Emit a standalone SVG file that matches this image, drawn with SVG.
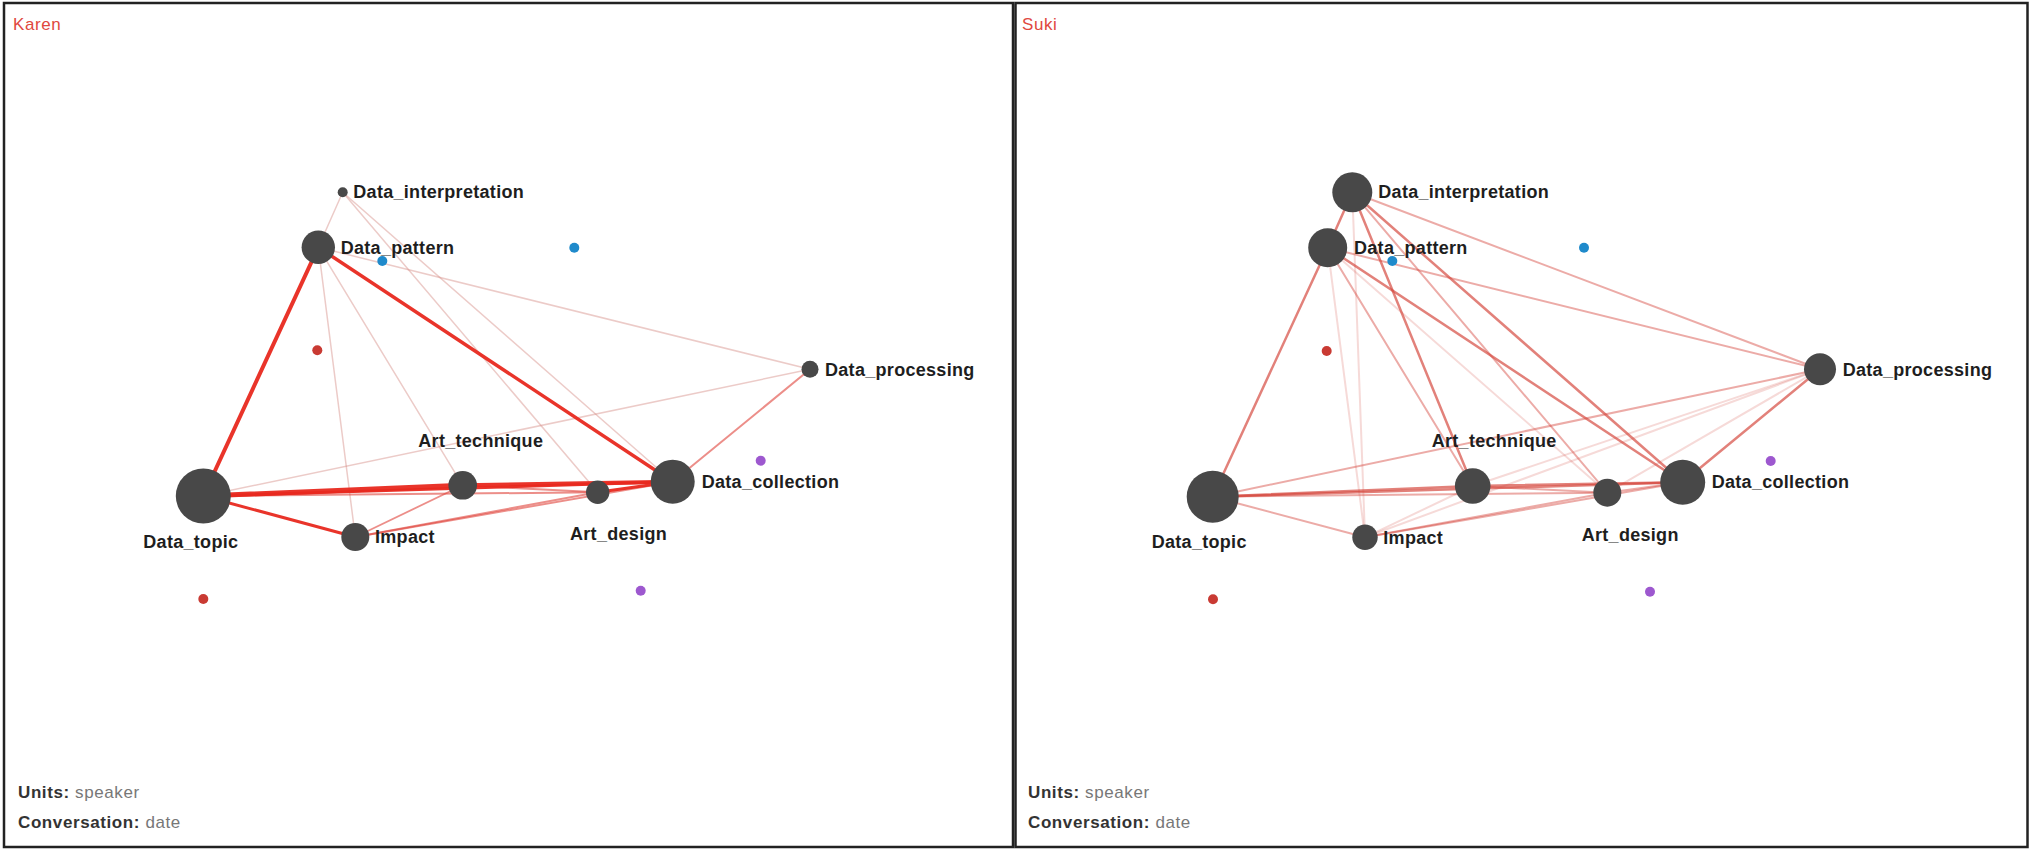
<svg xmlns="http://www.w3.org/2000/svg" width="2031" height="852" viewBox="0 0 2031 852">
<style>
.frame{fill:#fff;stroke:#222;stroke-width:2.5}
.title{font-family:"Liberation Sans",Arial,sans-serif;font-size:17px;letter-spacing:0.6px;fill:#e0483e}
.lbl{font-family:"Liberation Sans",Arial,sans-serif;font-size:18px;font-weight:bold;letter-spacing:0.3px;fill:#1e1e1e}
.info{font-family:"Liberation Sans",Arial,sans-serif;font-size:17px;letter-spacing:0.6px;fill:#777}
.info .k{font-weight:bold;fill:#333}
.node{fill:#484848}
.blue{fill:#1f8acb}
.red{fill:#c93a33}
.purple{fill:#9d58cf}
line{stroke-linecap:round;fill:none}
.kt{stroke:#e8291f;stroke-opacity:0.95}
.km{stroke:#e0433a;stroke-opacity:0.6}
.kf{stroke:#d58c85;stroke-opacity:0.45;stroke-width:1.5}
.ss{stroke:#d4453b;stroke-opacity:0.68;stroke-width:2.5}
.sm{stroke:#d4453b;stroke-opacity:0.45;stroke-width:2}
.sf{stroke:#d4453b;stroke-opacity:0.2;stroke-width:2}
</style>
<rect class="frame" x="4" y="3" width="1009" height="844"/>
<rect class="frame" x="1015.5" y="3" width="1012" height="844"/>
<text class="title" x="13" y="30">Karen</text>
<text class="title" x="1022" y="30">Suki</text>
<text class="info" x="18" y="798"><tspan class="k">Units:</tspan> speaker</text>
<text class="info" x="18" y="828"><tspan class="k">Conversation:</tspan> date</text>
<text class="info" x="1028" y="798"><tspan class="k">Units:</tspan> speaker</text>
<text class="info" x="1028" y="828"><tspan class="k">Conversation:</tspan> date</text>

<g id="connectors">
<g id="karen-connectors">
<line class="kf" x1="342.7" y1="192.3" x2="318.3" y2="247.3"/>
<line class="kf" x1="342.7" y1="192.3" x2="597.7" y2="492.3"/>
<line class="kf" x1="342.7" y1="192.3" x2="672.7" y2="481.7"/>
<line class="kf" x1="318.3" y1="247.3" x2="355.3" y2="537"/>
<line class="kf" x1="318.3" y1="247.3" x2="462.7" y2="485.3"/>
<line class="kf" x1="318.3" y1="247.3" x2="810" y2="369.3" stroke-width="2.2" stroke-opacity="0.6"/>
<line class="kf" x1="203.3" y1="496" x2="810" y2="369.3" stroke-width="2.2" stroke-opacity="0.55"/>
<line class="km" x1="810" y1="369.3" x2="672.7" y2="481.7" stroke-width="2"/>
<line class="km" x1="355.3" y1="537" x2="462.7" y2="485.3" stroke-width="1.8"/>
<line class="km" x1="355.3" y1="537" x2="597.7" y2="492.3" stroke-width="2"/>
<line class="km" x1="355.3" y1="537" x2="672.7" y2="481.7" stroke-width="2"/>
<line class="km" x1="203.3" y1="496" x2="597.7" y2="492.3" stroke-width="2"/>
<line class="km" x1="462.7" y1="485.3" x2="597.7" y2="492.3" stroke-width="2"/>
<line class="kt" x1="203.3" y1="496" x2="355.3" y2="537" stroke-width="3" stroke-opacity="0.85"/>
<line class="kt" x1="203.3" y1="496" x2="672.7" y2="481.7" stroke-width="3" stroke-opacity="0.8"/>
<line class="kt" x1="597.7" y1="492.3" x2="672.7" y2="481.7" stroke-width="3" stroke-opacity="0.8"/>
<line class="kt" x1="203.3" y1="496" x2="462.7" y2="485.3" stroke-width="5"/>
<line class="kt" x1="462.7" y1="485.3" x2="672.7" y2="481.7" stroke-width="4"/>
<line class="kt" x1="318.3" y1="247.3" x2="203.3" y2="496" stroke-width="4"/>
<line class="kt" x1="318.3" y1="247.3" x2="672.7" y2="481.7" stroke-width="3.5"/>
</g>
<g id="suki-connectors">
<line class="sf" x1="1352.3" y1="192.3" x2="1365" y2="537.3"/>
<line class="sf" x1="1327.7" y1="247.7" x2="1365" y2="537.3"/>
<line class="sf" x1="1327.7" y1="247.7" x2="1607.3" y2="492.7"/>
<line class="sf" x1="1820" y1="369.3" x2="1472.7" y2="486"/>
<line class="sf" x1="1820" y1="369.3" x2="1365" y2="537.3"/>
<line class="sf" x1="1820" y1="369.3" x2="1607.3" y2="492.7"/>
<line class="sf" x1="1365" y1="537.3" x2="1472.7" y2="486"/>
<line class="sm" x1="1352.3" y1="192.3" x2="1820" y2="369.3"/>
<line class="sm" x1="1327.7" y1="247.7" x2="1820" y2="369.3" stroke-width="2.5"/>
<line class="sm" x1="1820" y1="369.3" x2="1212.7" y2="496.7" stroke-width="2.5"/>
<line class="sm" x1="1352.3" y1="192.3" x2="1607.3" y2="492.7"/>
<line class="sm" x1="1327.7" y1="247.7" x2="1472.7" y2="486"/>
<line class="sm" x1="1212.7" y1="496.7" x2="1365" y2="537.3"/>
<line class="sm" x1="1212.7" y1="496.7" x2="1607.3" y2="492.7"/>
<line class="sm" x1="1472.7" y1="486" x2="1607.3" y2="492.7"/>
<line class="sm" x1="1365" y1="537.3" x2="1607.3" y2="492.7" stroke-width="2.5"/>
<line class="sm" x1="1365" y1="537.3" x2="1682.7" y2="482.3"/>
<line class="sm" x1="1607.3" y1="492.7" x2="1682.7" y2="482.3" stroke-width="2.5"/>
<line class="ss" x1="1352.3" y1="192.3" x2="1327.7" y2="247.7"/>
<line class="ss" x1="1327.7" y1="247.7" x2="1212.7" y2="496.7"/>
<line class="ss" x1="1352.3" y1="192.3" x2="1472.7" y2="486"/>
<line class="ss" x1="1352.3" y1="192.3" x2="1682.7" y2="482.3"/>
<line class="ss" x1="1327.7" y1="247.7" x2="1682.7" y2="482.3"/>
<line class="ss" x1="1820" y1="369.3" x2="1682.7" y2="482.3"/>
<line class="ss" x1="1212.7" y1="496.7" x2="1682.7" y2="482.3"/>
<line class="ss" x1="1212.7" y1="496.7" x2="1472.7" y2="486" stroke-width="3"/>
<line class="ss" x1="1472.7" y1="486" x2="1682.7" y2="482.3" stroke-width="3"/>
</g>
</g>

<g id="karen-dots">
<circle class="blue" cx="382.3" cy="261" r="5"/>
<circle class="blue" cx="574.3" cy="247.7" r="5"/>
<circle class="red" cx="317.3" cy="350.3" r="5"/>
<circle class="red" cx="203.3" cy="599" r="5"/>
<circle class="purple" cx="760.7" cy="460.7" r="5"/>
<circle class="purple" cx="640.7" cy="590.7" r="5"/>
</g>
<g id="suki-dots">
<circle class="blue" cx="1392.3" cy="261" r="5"/>
<circle class="blue" cx="1584" cy="247.7" r="5"/>
<circle class="red" cx="1326.7" cy="351" r="5"/>
<circle class="red" cx="1213" cy="599.3" r="5"/>
<circle class="purple" cx="1770.7" cy="461" r="5"/>
<circle class="purple" cx="1650" cy="591.7" r="5"/>
</g>

<g id="karen-data-interpretation"><circle class="node" cx="342.7" cy="192.3" r="5"/><text class="lbl" x="353.3" y="198.3">Data_interpretation</text></g>
<g id="karen-data-pattern"><circle class="node" cx="318.3" cy="247.3" r="16.7"/><text class="lbl" x="340.7" y="254">Data_pattern</text></g>
<g id="karen-data-processing"><circle class="node" cx="810" cy="369.3" r="8.5"/><text class="lbl" x="825" y="375.7">Data_processing</text></g>
<g id="karen-data-topic"><circle class="node" cx="203.3" cy="496" r="27.5"/><text class="lbl" x="143.3" y="547.7">Data_topic</text></g>
<g id="karen-impact"><circle class="node" cx="355.3" cy="537" r="14"/><text class="lbl" x="375" y="543.3">Impact</text></g>
<g id="karen-art-technique"><circle class="node" cx="462.7" cy="485.3" r="14.3"/><text class="lbl" x="418.3" y="446.7">Art_technique</text></g>
<g id="karen-art-design"><circle class="node" cx="597.7" cy="492.3" r="11.7"/><text class="lbl" x="570" y="540">Art_design</text></g>
<g id="karen-data-collection"><circle class="node" cx="672.7" cy="481.7" r="22"/><text class="lbl" x="701.7" y="487.7">Data_collection</text></g>

<g id="suki-data-interpretation"><circle class="node" cx="1352.3" cy="192.3" r="20"/><text class="lbl" x="1378.3" y="198.3">Data_interpretation</text></g>
<g id="suki-data-pattern"><circle class="node" cx="1327.7" cy="247.7" r="19.5"/><text class="lbl" x="1354" y="254">Data_pattern</text></g>
<g id="suki-data-processing"><circle class="node" cx="1820" cy="369.3" r="16"/><text class="lbl" x="1842.7" y="376">Data_processing</text></g>
<g id="suki-data-topic"><circle class="node" cx="1212.7" cy="496.7" r="26"/><text class="lbl" x="1151.7" y="548.3">Data_topic</text></g>
<g id="suki-impact"><circle class="node" cx="1365" cy="537.3" r="12.7"/><text class="lbl" x="1383.3" y="544">Impact</text></g>
<g id="suki-art-technique"><circle class="node" cx="1472.7" cy="486" r="17.8"/><text class="lbl" x="1431.7" y="447.3">Art_technique</text></g>
<g id="suki-art-design"><circle class="node" cx="1607.3" cy="492.7" r="14"/><text class="lbl" x="1581.7" y="540.7">Art_design</text></g>
<g id="suki-data-collection"><circle class="node" cx="1682.7" cy="482.3" r="22.5"/><text class="lbl" x="1711.7" y="488.3">Data_collection</text></g>
</svg>
